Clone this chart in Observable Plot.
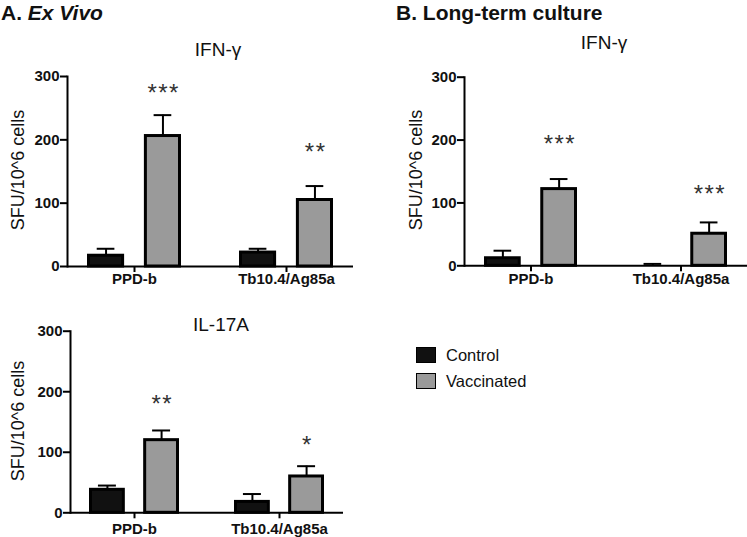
<!DOCTYPE html>
<html>
<head>
<meta charset="utf-8">
<script src="https://cdn.jsdelivr.net/npm/d3@7"></script>
<script src="https://cdn.jsdelivr.net/npm/@observablehq/plot@0.6"></script>
<style>
  body { margin: 0; background: #fff; }
  #root { position: relative; width: 747px; height: 537px; overflow: hidden; font-family: "Liberation Sans", Arial, sans-serif; color: #111; }
  .abs { position: absolute; white-space: nowrap; }
  .title { font-weight: bold; font-size: 21px; line-height: 1; }
  .ptitle { font-size: 19px; line-height: 1; transform: translateX(-50%); }
  .ylab { font-size: 18px; line-height: 1; transform: translate(-50%, -50%) rotate(-90deg); }
  .leg-sw { position: absolute; width: 18px; height: 14px; border: 1.5px solid #000; }
  .leg-tx { position: absolute; font-size: 16.5px; line-height: 1; }
  g[aria-label="text"] text { letter-spacing: 1.5px; }
</style>
</head>
<body>
<div id="root"></div>
<script>
// ---------- data ----------
const groups = ["PPD-b", "Tb10.4/Ag85a"];
const seriesNames = ["Control", "Vaccinated"];
const yTicks = [0, 100, 200, 300];

// A. Ex Vivo – IFN-γ
const exVivoIfnControl = [17, 22];
const exVivoIfnControlErr = [28, 28];
const exVivoIfnVacc = [206, 105];
const exVivoIfnVaccErr = [239, 127];
const exVivoIfnStars = ["***", "**"];
const exVivoIfnStarY = [283, 190];

// A. Ex Vivo – IL-17A
const exVivoIl17Control = [38, 18];
const exVivoIl17ControlErr = [45, 31];
const exVivoIl17Vacc = [120, 60];
const exVivoIl17VaccErr = [136, 77];
const exVivoIl17Stars = ["**", "*"];
const exVivoIl17StarY = [189, 122];

// B. Long-term culture – IFN-γ
const longIfnControl = [12, 0];
const longIfnControlErr = [24, 3];
const longIfnVacc = [122, 51];
const longIfnVaccErr = [138, 69];
const longIfnStars = ["***", "***"];
const longIfnStarY = [203, 123];

// ---------- helpers ----------
function rowsOf(ctrl, ctrlErr, vac, vacErr) {
  return groups.flatMap((g, i) => [
    {group: g, series: seriesNames[0], mean: ctrl[i], err: ctrlErr[i]},
    {group: g, series: seriesNames[1], mean: vac[i], err: vacErr[i]}
  ]);
}
function starsOf(texts, ys) {
  return groups.map((g, i) => ({group: g, text: texts[i], y: ys[i]}));
}

function panel({rows, stars, width, height, mt, mb, ml, mr, xPad}) {
  const pi = 0.38, po = 0.13;
  const innerW = width - ml - mr;
  const bw = innerW / (2 - pi + 2 * po) * (1 - pi);
  const barW = bw * 0.365;
  const edge = 1.5;
  const off = bw / 2 - edge - barW / 2;
  const capHalf = 9;
  const ctrl = rows.filter(d => d.series === seriesNames[0]);
  const vac = rows.filter(d => d.series === seriesNames[1]);
  return Plot.plot({
    width, height,
    marginTop: mt, marginBottom: mb, marginLeft: ml, marginRight: mr,
    style: {fontFamily: "Liberation Sans, Arial, sans-serif", background: "transparent", overflow: "visible", color: "#000"},
    x: {domain: groups, paddingInner: pi, paddingOuter: po, label: null},
    y: {domain: [0, 300], label: null},
    color: {domain: seriesNames, range: ["#111111", "#9a9a9a"]},
    marks: [
      Plot.ruleX(ctrl, {x: "group", y1: "mean", y2: "err", dx: -off, stroke: "#000", strokeWidth: 2}),
      Plot.ruleX(vac, {x: "group", y1: "mean", y2: "err", dx: off, stroke: "#000", strokeWidth: 2}),
      Plot.tickY(ctrl, {x: "group", y: "err", insetLeft: bw / 2 - off - capHalf, insetRight: bw / 2 + off - capHalf, stroke: "#000", strokeWidth: 2}),
      Plot.tickY(vac, {x: "group", y: "err", insetLeft: bw / 2 + off - capHalf, insetRight: bw / 2 - off - capHalf, stroke: "#000", strokeWidth: 2}),
      Plot.barY(ctrl, {x: "group", y: "mean", fill: "series", stroke: "#000", strokeWidth: 3, insetLeft: edge, insetRight: bw - edge - barW}),
      Plot.barY(vac, {x: "group", y: "mean", fill: "series", stroke: "#000", strokeWidth: 3, insetLeft: bw - edge - barW, insetRight: edge}),
      Plot.ruleY([0], {stroke: "#000", strokeWidth: 2}),
      Plot.frame({anchor: "left", stroke: "#000", strokeWidth: 2}),
      Plot.axisY({ticks: yTicks, tickSize: 7, tickPadding: 1, strokeWidth: 2, fontSize: 15, fontWeight: "bold", fill: "#111", label: null}),
      Plot.axisX({tickSize: 6, tickPadding: xPad, strokeWidth: 2, fontSize: 15, fontWeight: "bold", fill: "#111", label: null}),
      Plot.text(stars, {x: "group", y: "y", text: "text", dx: off + 0.75, dy: 6, fontSize: 24, fill: "#333"})
    ]
  });
}

// ---------- layout ----------
const root = document.getElementById("root");
function place(node, left, top) {
  node.style.position = "absolute";
  node.style.left = left + "px";
  node.style.top = top + "px";
  root.appendChild(node);
}
function html(cls, text, left, top, extra) {
  const d = document.createElement("div");
  d.className = "abs " + cls;
  d.innerHTML = text;
  d.style.left = left + "px";
  d.style.top = top + "px";
  if (extra) Object.assign(d.style, extra);
  root.appendChild(d);
  return d;
}

place(panel({
  rows: rowsOf(exVivoIfnControl, exVivoIfnControlErr, exVivoIfnVacc, exVivoIfnVaccErr),
  stars: starsOf(exVivoIfnStars, exVivoIfnStarY),
  width: 360, height: 246, mt: 26, mb: 30, ml: 67, mr: 7, xPad: 1
}), 0, 50);

place(panel({
  rows: rowsOf(exVivoIl17Control, exVivoIl17ControlErr, exVivoIl17Vacc, exVivoIl17VaccErr),
  stars: starsOf(exVivoIl17Stars, exVivoIl17StarY),
  width: 350, height: 237, mt: 30.7, mb: 24.7, ml: 70, mr: 7, xPad: 4.4
}), 0, 300);

place(panel({
  rows: rowsOf(longIfnControl, longIfnControlErr, longIfnVacc, longIfnVaccErr),
  stars: starsOf(longIfnStars, longIfnStarY),
  width: 352, height: 245.3, mt: 26.7, mb: 30, ml: 69, mr: 0, xPad: 1.4
}), 395, 50);

// titles
html("title", "A. <i>Ex Vivo</i>", 1, 2);
html("title", "B. Long-term culture", 396, 2);
html("ptitle", "IFN-γ", 218, 40);
html("ptitle", "IFN-γ", 604, 33);
html("ptitle", "IL-17A", 221, 315);

// y-axis labels
html("ylab", "SFU/10^6 cells", 17.5, 170);
html("ylab", "SFU/10^6 cells", 17.5, 421);
html("ylab", "SFU/10^6 cells", 416, 170);

// legend
const legendColors = ["#111111", "#9a9a9a"];
seriesNames.forEach((s, i) => {
  const sw = document.createElement("div");
  sw.className = "leg-sw";
  sw.style.left = "416px";
  sw.style.top = (347 + i * 26) + "px";
  sw.style.background = legendColors[i];
  root.appendChild(sw);
  html("leg-tx", s, 446, 347 + i * 26);
});
</script>
</body>
</html>
